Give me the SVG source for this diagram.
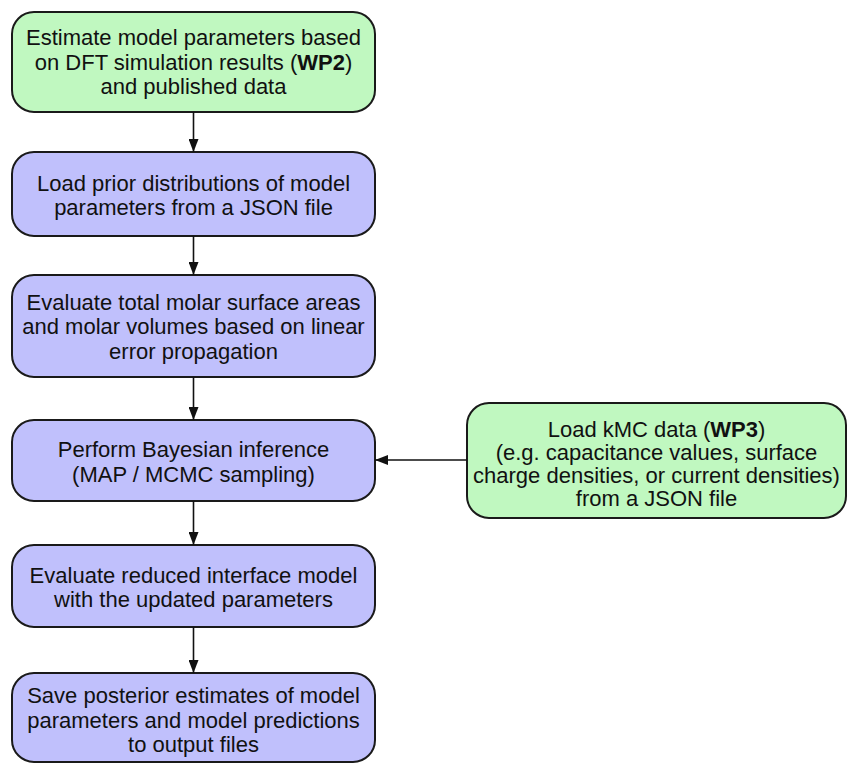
<svg xmlns="http://www.w3.org/2000/svg" width="847" height="764" viewBox="0 0 847 764">
<defs>
<style>
.g{fill:#c0f8c0;stroke:#1a1a1a;stroke-width:2}
.p{fill:#c0c0fc;stroke:#1a1a1a;stroke-width:2}
text{font-family:"Liberation Sans",Arial,sans-serif;font-size:22px;fill:#111;text-anchor:middle}
.c line{stroke:#111;stroke-width:1.6}
</style>
<marker id="ah" viewBox="0 0 13 10" refX="13" refY="5" markerWidth="13" markerHeight="10" markerUnits="userSpaceOnUse" orient="auto">
<path d="M0,0 L13,5 L0,10 z" fill="#111"/>
</marker>
</defs>
<rect width="847" height="764" fill="#fff"/>
<g id="n1"><rect class="g" x="12" y="12" width="363" height="100" rx="22"/>
<text x="193.5" y="45">Estimate model parameters based</text>
<text x="193.5" y="69.5">on DFT simulation results (<tspan font-weight="bold">WP2</tspan>)</text>
<text x="193.5" y="94">and published data</text></g>
<g id="n2"><rect class="p" x="12" y="152" width="363" height="84" rx="22"/>
<text x="193.5" y="190.5">Load prior distributions of model</text>
<text x="193.5" y="215">parameters from a JSON file</text></g>
<g id="n3"><rect class="p" x="12" y="275" width="363" height="102" rx="22"/>
<text x="193.5" y="309.5">Evaluate total molar surface areas</text>
<text x="193.5" y="334">and molar volumes based on linear</text>
<text x="193.5" y="358.5">error propagation</text></g>
<g id="n4"><rect class="p" x="12" y="420" width="363" height="81" rx="22"/>
<text x="193.5" y="457">Perform Bayesian inference</text>
<text x="193.5" y="481.5">(MAP / MCMC sampling)</text></g>
<g id="n5"><rect class="p" x="12" y="545" width="363" height="82" rx="22"/>
<text x="193.5" y="582.5">Evaluate reduced interface model</text>
<text x="193.5" y="607">with the updated parameters</text></g>
<g id="n6"><rect class="p" x="12" y="673" width="363" height="89" rx="22"/>
<text x="193.5" y="703">Save posterior estimates of model</text>
<text x="193.5" y="727.5">parameters and model predictions</text>
<text x="193.5" y="752">to output files</text></g>
<g id="n7"><rect class="g" x="467" y="403" width="379" height="115" rx="22"/>
<text x="656.5" y="437">Load kMC data (<tspan font-weight="bold">WP3</tspan>)</text>
<text x="656.5" y="460">(e.g. capacitance values, surface</text>
<text x="656.5" y="483">charge densities, or current densities)</text>
<text x="656.5" y="506">from a JSON file</text></g>
<g id="connectors" class="c">
<line x1="193.5" y1="112" x2="193.5" y2="152" marker-end="url(#ah)"/>
<line x1="193.5" y1="236" x2="193.5" y2="275" marker-end="url(#ah)"/>
<line x1="193.5" y1="377" x2="193.5" y2="420" marker-end="url(#ah)"/>
<line x1="193.5" y1="501" x2="193.5" y2="545" marker-end="url(#ah)"/>
<line x1="193.5" y1="627" x2="193.5" y2="673" marker-end="url(#ah)"/>
<line x1="467" y1="460" x2="375" y2="460" marker-end="url(#ah)"/>
</g>
</svg>
